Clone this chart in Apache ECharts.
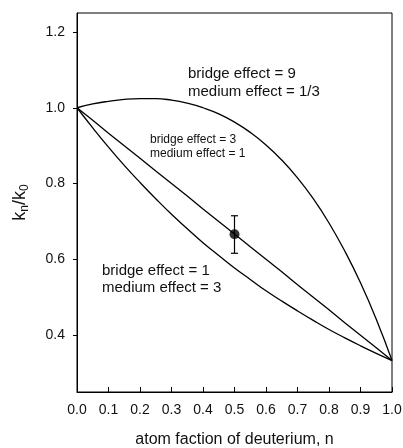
<!DOCTYPE html>
<html>
<head>
<meta charset="utf-8">
<title>proton inventory</title>
<style>
  html, body { margin: 0; padding: 0; background: #fff; }
  #chart { width: 403px; height: 448px; }
</style>
</head>
<body>
<div id="chart"></div>
<script src="https://cdn.jsdelivr.net/npm/echarts@6/dist/echarts.min.js"></script>
<script>
// atom fraction of deuterium
var nValues = [0, 0.05, 0.1, 0.15, 0.2, 0.25, 0.3, 0.35, 0.4, 0.45, 0.5,
               0.55, 0.6, 0.65, 0.7, 0.75, 0.8, 0.85, 0.9, 0.95, 1.0];
// bridge effect = 9, medium effect = 1/3
var upperCurve = [1.000, 1.010, 1.017, 1.022, 1.024, 1.024, 1.020, 1.012, 1.000, 0.984, 0.962,
                  0.935, 0.902, 0.862, 0.815, 0.760, 0.696, 0.622, 0.538, 0.442, 0.333];
// bridge effect = 3, medium effect = 1
var middleCurve = [1.000, 0.967, 0.933, 0.900, 0.867, 0.833, 0.800, 0.767, 0.733, 0.700, 0.667,
                   0.633, 0.600, 0.567, 0.533, 0.500, 0.467, 0.433, 0.400, 0.367, 0.333];
// bridge effect = 1, medium effect = 3
var lowerCurve = [1.000, 0.947, 0.896, 0.848, 0.803, 0.760, 0.719, 0.681, 0.644, 0.610, 0.577,
                  0.547, 0.517, 0.490, 0.464, 0.439, 0.415, 0.393, 0.372, 0.352, 0.333];
// measured point with error bar
var pointN = 0.5;
var pointK = 0.666;
var pointLow = 0.616;
var pointHigh = 0.715;

var yTicks = [0.4, 0.6, 0.8, 1.0, 1.2];

function pairs(ys) {
    return nValues.map(function (n, i) { return [n, ys[i]]; });
}

var font = 'Liberation Sans, Arial, sans-serif';
var lineStyle = { color: '#000', width: 1.3 };

var chart = echarts.init(document.getElementById('chart'));
var option = {
    animation: false,
    backgroundColor: '#fff',
    grid: {
        left: 77, right: 11, top: 13, bottom: 56,
        outerBoundsMode: 'none',
        show: true, borderColor: '#000', borderWidth: 1
    },
    xAxis: {
        type: 'value',
        min: 0, max: 1, interval: 0.1,
        name: 'atom faction of deuterium, n',
        nameLocation: 'middle',
        nameGap: 40,
        nameTextStyle: { fontFamily: font, fontSize: 16, color: '#111' },
        axisLine: { lineStyle: { color: '#000', width: 1 } },
        axisTick: { inside: true, length: 5, lineStyle: { color: '#000' } },
        axisLabel: {
            margin: 11, fontFamily: font, fontSize: 14, color: '#111',
            formatter: function (v) { return v.toFixed(1); }
        },
        splitLine: { show: false }
    },
    yAxis: {
        type: 'value',
        min: 0.25, max: 1.25,
        name: '{a|k}{s|n}{a|/k}{s|0}',
        nameLocation: 'middle',
        nameRotate: 90,
        nameGap: 46,
        nameTextStyle: {
            rich: {
                a: { fontFamily: font, fontSize: 18, color: '#111' },
                s: { fontFamily: font, fontSize: 12, color: '#111', verticalAlign: 'bottom', padding: [9, 0, 0, 0] }
            }
        },
        axisLine: { lineStyle: { color: '#000', width: 1 } },
        axisTick: { length: 4, customValues: yTicks, lineStyle: { color: '#000' } },
        axisLabel: {
            margin: 12, fontFamily: font, fontSize: 14, color: '#111',
            customValues: yTicks,
            formatter: function (v) { return v.toFixed(1); }
        },
        splitLine: { show: false }
    },
    graphic: [
        { type: 'text', left: 188, top: 65, style: { text: 'bridge effect = 9\nmedium effect = 1/3', font: '15px ' + font, fill: '#111', lineHeight: 18 } },
        { type: 'text', left: 150, top: 133, style: { text: 'bridge effect = 3\nmedium effect = 1', font: '12px ' + font, fill: '#111', lineHeight: 14 } },
        { type: 'text', left: 102, top: 262, style: { text: 'bridge effect = 1\nmedium effect = 3', font: '15px ' + font, fill: '#111', lineHeight: 17 } }
    ],
    series: [
        { type: 'line', data: pairs(upperCurve), smooth: 0.5, symbol: 'none', lineStyle: lineStyle },
        { type: 'line', data: pairs(middleCurve), symbol: 'none', lineStyle: lineStyle },
        { type: 'line', data: pairs(lowerCurve), smooth: 0.5, symbol: 'none', lineStyle: lineStyle },
        {
            type: 'custom',
            data: [[pointN, pointLow, pointHigh]],
            renderItem: function (params, api) {
                var lo = api.coord([api.value(0), api.value(1)]);
                var hi = api.coord([api.value(0), api.value(2)]);
                var cap = 3.5;
                var st = { stroke: '#000', lineWidth: 1.2 };
                return {
                    type: 'group',
                    children: [
                        { type: 'line', shape: { x1: lo[0], y1: lo[1], x2: hi[0], y2: hi[1] }, style: st },
                        { type: 'line', shape: { x1: lo[0] - cap, y1: lo[1], x2: lo[0] + cap, y2: lo[1] }, style: st },
                        { type: 'line', shape: { x1: hi[0] - cap, y1: hi[1], x2: hi[0] + cap, y2: hi[1] }, style: st }
                    ]
                };
            },
            z: 3
        },
        {
            type: 'scatter',
            data: [[pointN, pointK]],
            symbol: 'circle', symbolSize: 10,
            itemStyle: { color: '#000' },
            z: 4
        }
    ]
};
chart.setOption(option);
</script>
</body>
</html>
